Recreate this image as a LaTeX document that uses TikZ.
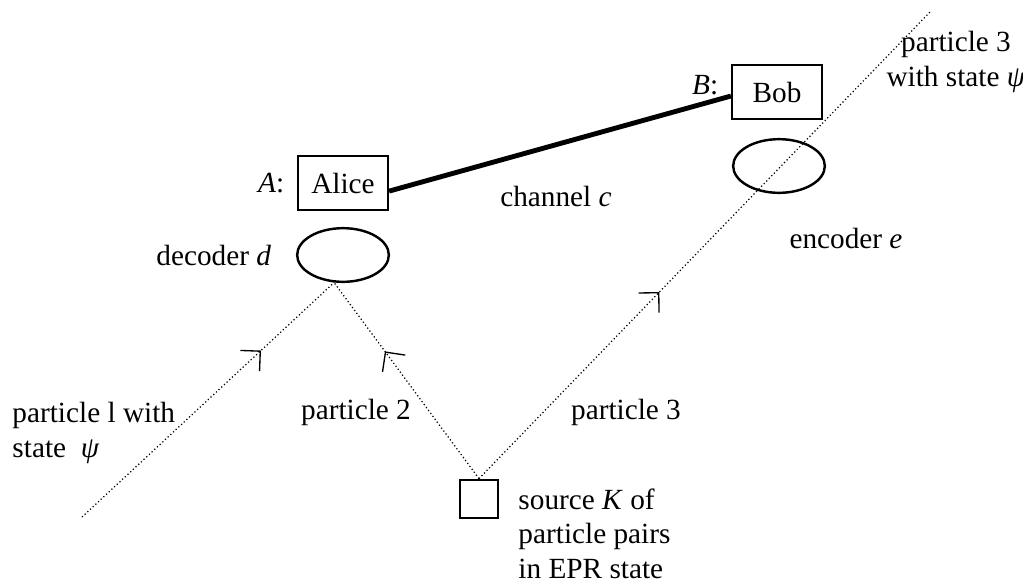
\documentclass[tikz,border=0pt]{standalone}
\usepackage{fontspec}
\setmainfont{Liberation Serif}
\usetikzlibrary{positioning,arrows.meta,decorations.markings,shapes.geometric}
\tikzset{
  party/.style={draw,line width=0.9pt,minimum width=36.9pt,minimum height=22.2pt,inner sep=0pt,font=\fontsize{12}{14}\selectfont},
  device/.style={draw,ellipse,line width=1pt,minimum width=37.6pt,minimum height=22pt,inner sep=0pt},
  source box/.style={draw,line width=0.9pt,minimum size=15.8pt,inner sep=0pt},
  label text/.style={font=\fontsize{12}{14}\selectfont,inner sep=0pt,align=left},
  particle/.style={densely dotted,line width=0.5pt},
  flow at/.style={postaction={decorate},decoration={markings,
    mark=at position #1 with {\arrow{Straight Barb[angle=90:8.2pt,line width=0.55pt]}}}},
}

\begin{document}
\begin{tikzpicture}[x=0.41pt,y=-0.41pt]
\useasboundingbox (0,0) rectangle (1023,583);
% Alice, Bob and the channel
\node[party] (alice) at (343,183) {Alice};
\node[party] (bob) at (777,92) {Bob};
\node[label text,left=5pt of alice] (alicetag) {\textit{A}:};
\node[label text,left=5pt of bob,yshift=3pt] (bobtag) {\textit{B}:};
\draw[line width=2pt] (alice.-10) -- (bob.185);
\node[label text] (chantag) at (556,196) {channel \textit{c}};
% decoder, encoder and source
\node[device] (decoder) at (343,255) {};
\node[device] (encoder) at (779,166) {};
\node[source box] (K) at (479,499) {};
\node[label text,left=10pt of decoder] (dectag) {decoder \textit{d}};
\node[label text] (enctag) at (846,238) {encoder \textit{e}};
\node[label text,anchor=base west] (Ktag) at (518,578) {source \textit{K} of\\particle pairs\\in EPR state};
% particles
\coordinate (p1start) at (82,517);
\coordinate (p3end) at (930,12);
\coordinate (meet) at (decoder.-108);
\draw[particle,flow at=0.71] (p1start) -- (meet);
\draw[particle,flow at=0.65] (K.north) -- (meet);
\draw[particle,flow at=0.40] (K.north) -- (p3end);
\node[label text,anchor=west] (p1tag) at (12,433) {particle l with\\state \ \textit{ψ}};
\node[label text] (p2tag) at (356,412) {particle 2};
\node[label text] (p3tag) at (626,412) {particle 3};
\node[label text,align=center] (p3intag) at (956,62) {particle 3\\with state \textit{ψ}};
\end{tikzpicture}
\end{document}
